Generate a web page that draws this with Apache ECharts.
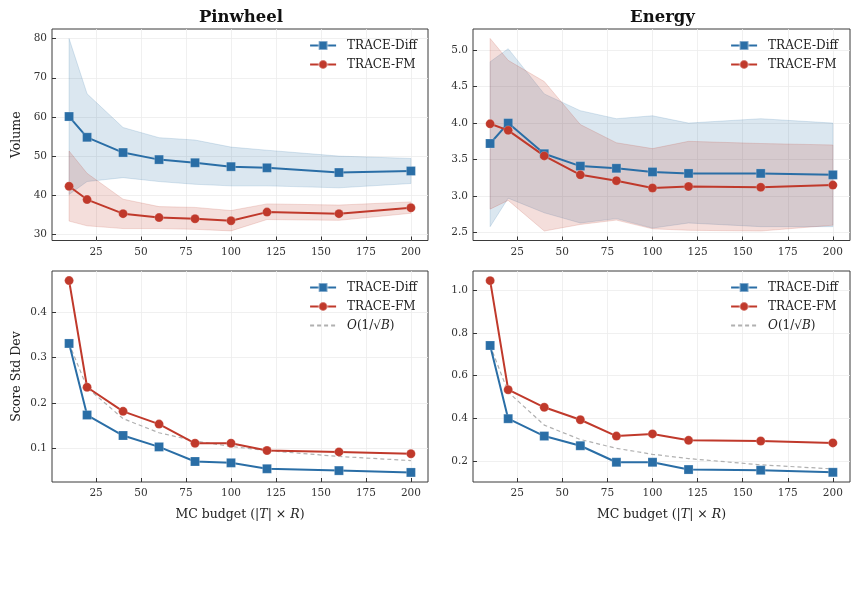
<!DOCTYPE html>
<html>
<head>
<meta charset="utf-8">
<script src="https://cdn.jsdelivr.net/npm/echarts@6/dist/echarts.min.js"></script>
<style>
  html, body { margin: 0; padding: 0; background: #fff; }
  #chart { width: 860px; height: 596px; }
</style>
</head>
<body>
<div id="chart"></div>
<script>
// MC budget on the x axis (shared by all panels)
const budgets = [10, 20, 40, 60, 80, 100, 120, 160, 200];
const xTicks = [25, 50, 75, 100, 125, 150, 175, 200];

// --- Pinwheel: volume (mean + band) ---
const pinDiffMean = [60.1, 54.8, 50.9, 49.1, 48.3, 47.3, 47.0, 45.8, 46.2];
const pinDiffLo   = [40.2, 43.5, 44.5, 43.5, 42.8, 42.4, 42.4, 41.9, 43.0];
const pinDiffHi   = [80.0, 65.9, 57.3, 54.7, 54.1, 52.3, 51.5, 50.0, 49.4];
const pinFmMean   = [42.3, 38.9, 35.3, 34.3, 34.0, 33.5, 35.7, 35.3, 36.8];
const pinFmLo     = [33.4, 32.2, 31.5, 31.5, 31.3, 30.9, 33.8, 33.6, 35.4];
const pinFmHi     = [51.3, 45.6, 39.0, 37.1, 36.9, 36.1, 37.8, 37.5, 38.3];

// --- Energy: volume (mean + band) ---
const enDiffMean = [3.72, 4.00, 3.58, 3.41, 3.38, 3.33, 3.31, 3.31, 3.29];
const enDiffLo   = [2.58, 2.97, 2.77, 2.63, 2.69, 2.56, 2.63, 2.58, 2.58];
const enDiffHi   = [4.84, 5.02, 4.40, 4.17, 4.06, 4.10, 4.00, 4.06, 4.00];
const enFmMean   = [3.99, 3.90, 3.55, 3.29, 3.21, 3.11, 3.13, 3.12, 3.15];
const enFmLo     = [2.82, 2.94, 2.52, 2.61, 2.67, 2.55, 2.53, 2.52, 2.60];
const enFmHi     = [5.16, 4.86, 4.57, 3.98, 3.73, 3.65, 3.75, 3.72, 3.70];

// --- score std dev ---
const pinStdDiff = [0.331, 0.174, 0.129, 0.104, 0.072, 0.069, 0.056, 0.052, 0.048];
const pinStdFm   = [0.469, 0.235, 0.182, 0.154, 0.112, 0.112, 0.096, 0.093, 0.089];
const pinStdRef  = [0.331, 0.234, 0.166, 0.135, 0.117, 0.105, 0.096, 0.083, 0.074];
const enStdDiff  = [0.741, 0.400, 0.319, 0.274, 0.197, 0.197, 0.163, 0.160, 0.150];
const enStdFm    = [1.043, 0.535, 0.453, 0.395, 0.319, 0.329, 0.299, 0.296, 0.287];
const enStdRef   = [0.741, 0.524, 0.370, 0.303, 0.262, 0.234, 0.214, 0.185, 0.166];

// y tick labels per panel
const yTicksPinVol = [30, 40, 50, 60, 70, 80];
const yTicksEnVol  = [2.5, 3.0, 3.5, 4.0, 4.5, 5.0];
const yTicksPinStd = [0.1, 0.2, 0.3, 0.4];
const yTicksEnStd  = [0.2, 0.4, 0.6, 0.8, 1.0];

const panelTitles = ['Pinwheel', 'Energy'];
const seriesNames = ['TRACE-Diff', 'TRACE-FM', 'O(1/√B)'];

// styles
const SERIF = '"DejaVu Serif", "Liberation Serif", serif';
const BLUE = '#2a6ea6';
const RED = '#c0392b';
const BLUE_A = 'rgba(42,110,166,0.17)';
const RED_A = 'rgba(192,57,43,0.17)';

// grid boxes (px): [left, top, right edge, bottom edge]
const boxes = [
    [52, 29, 428, 240.5],
    [473, 29, 850, 240.5],
    [52, 271, 428, 482],
    [473, 271, 850, 482]
];
// right end of the legend text in each panel
const legendRight = [417, 838, 417, 838];

const pairs = (ys) => budgets.map((b, i) => [b, ys[i]]);

function makeGrid(b) {
    return {
        left: b[0], top: b[1], width: b[2] - b[0], height: b[3] - b[1],
        show: true, borderColor: '#3b3b3b', borderWidth: 1, backgroundColor: '#fff'
    };
}

function makeXAxis(idx, showName) {
    return {
        type: 'value', gridIndex: idx, min: 0.5, max: 209.5,
        name: showName ? 'MC budget (|{i|T}| × {i|R})' : '',
        nameLocation: 'middle', nameGap: 26,
        nameTextStyle: {
            fontFamily: SERIF, fontSize: 12.5, color: '#222',
            rich: { i: { fontFamily: SERIF, fontStyle: 'italic', fontSize: 12.5, color: '#222' } }
        },
        axisLine: { show: false },
        axisTick: { show: true, inside: true, length: 4, customValues: xTicks,
                    lineStyle: { color: '#333', width: 1 } },
        axisLabel: { customValues: xTicks, fontFamily: SERIF, fontSize: 10.5, color: '#333', margin: 6 },
        splitLine: { show: true, lineStyle: { color: '#ececec', width: 0.8 } }
    };
}

function makeYAxis(idx, min, max, ticks, name, digits) {
    return {
        type: 'value', gridIndex: idx, min: min, max: max,
        name: name, nameLocation: 'middle', nameGap: 29,
        nameTextStyle: { fontFamily: SERIF, fontSize: 12.5, color: '#222' },
        axisLine: { show: false },
        axisTick: { show: true, inside: true, length: 4, customValues: ticks,
                    lineStyle: { color: '#333', width: 1 } },
        axisLabel: {
            customValues: ticks, fontFamily: SERIF, fontSize: 10.5, color: '#333', margin: 5,
            formatter: (v) => Number(v).toFixed(digits)
        },
        splitLine: { show: true, lineStyle: { color: '#ececec', width: 0.8 } }
    };
}

// shaded band between lo and hi, drawn once as one polygon
function band(idx, lo, hi, fill) {
    return {
        type: 'custom', xAxisIndex: idx, yAxisIndex: idx, silent: true, z: 1,
        data: budgets.map((b, i) => [b, lo[i], hi[i]]),
        encode: { x: 0, y: [1, 2] },
        renderItem: (params, api) => {
            if (params.dataIndex !== 0) return null;
            const upper = budgets.map((b, i) => api.coord([b, hi[i]]));
            const lower = budgets.map((b, i) => api.coord([b, lo[i]])).reverse();
            return {
                type: 'polygon',
                shape: { points: upper.concat(lower) },
                style: { fill: fill, stroke: fill, lineWidth: 1 }
            };
        }
    };
}

function meanLine(idx, name, ys, color, shape) {
    return {
        name: name, type: 'line', xAxisIndex: idx, yAxisIndex: idx,
        data: pairs(ys), symbol: shape, symbolSize: 9, z: 5,
        lineStyle: { color: color, width: 2 },
        itemStyle: { color: color, borderColor: 'rgba(255,255,255,0.35)', borderWidth: 0.6 }
    };
}

function refLine(idx, ys) {
    return {
        name: seriesNames[2], type: 'line', xAxisIndex: idx, yAxisIndex: idx,
        data: pairs(ys), symbol: 'none', z: 3,
        lineStyle: { color: '#b0b0b0', width: 1.2, type: [4, 3] },
        // transparent so the legend shows only the dashed line
        itemStyle: { color: 'rgba(0,0,0,0)', borderWidth: 0 }
    };
}

function makeLegend(idx, names) {
    return {
        data: names, orient: 'vertical', padding: 0,
        right: 860 - legendRight[idx], top: boxes[idx][1] + 10.5,
        itemWidth: 26, itemHeight: 11, itemGap: 7,
        textStyle: {
            fontFamily: SERIF, fontSize: 12, color: '#222', padding: [0, 0, 0, 6],
            rich: { i: { fontFamily: SERIF, fontStyle: 'italic', fontSize: 12, color: '#222' } }
        },
        formatter: (n) => n === seriesNames[2] ? '{i|O}(1/√{i|B})' : n
    };
}

const chart = echarts.init(document.getElementById('chart'), null, { renderer: 'canvas' });

const option = {
    animation: false,
    backgroundColor: '#fff',
    title: panelTitles.map((t, i) => ({
        text: t, left: (boxes[i][0] + boxes[i][2]) / 2 - 4, top: 4, textAlign: 'center',
        textStyle: { fontFamily: SERIF, fontWeight: 'bold', fontSize: 16.5, color: '#111' }
    })),
    grid: boxes.map(makeGrid),
    xAxis: [makeXAxis(0, false), makeXAxis(1, false), makeXAxis(2, true), makeXAxis(3, true)],
    yAxis: [
        makeYAxis(0, 28.45, 82.45, yTicksPinVol, 'Volume', 0),
        makeYAxis(1, 2.39, 5.29, yTicksEnVol, '', 1),
        makeYAxis(2, 0.027, 0.490, yTicksPinStd, 'Score Std Dev', 1),
        makeYAxis(3, 0.105, 1.088, yTicksEnStd, '', 1)
    ],
    legend: [
        makeLegend(0, seriesNames.slice(0, 2)),
        makeLegend(1, seriesNames.slice(0, 2)),
        makeLegend(2, seriesNames),
        makeLegend(3, seriesNames)
    ],
    series: [
        // Pinwheel volume
        band(0, pinDiffLo, pinDiffHi, BLUE_A),
        band(0, pinFmLo, pinFmHi, RED_A),
        meanLine(0, seriesNames[0], pinDiffMean, BLUE, 'rect'),
        meanLine(0, seriesNames[1], pinFmMean, RED, 'circle'),
        // Energy volume
        band(1, enDiffLo, enDiffHi, BLUE_A),
        band(1, enFmLo, enFmHi, RED_A),
        meanLine(1, seriesNames[0], enDiffMean, BLUE, 'rect'),
        meanLine(1, seriesNames[1], enFmMean, RED, 'circle'),
        // std dev panels
        refLine(2, pinStdRef),
        meanLine(2, seriesNames[0], pinStdDiff, BLUE, 'rect'),
        meanLine(2, seriesNames[1], pinStdFm, RED, 'circle'),
        refLine(3, enStdRef),
        meanLine(3, seriesNames[0], enStdDiff, BLUE, 'rect'),
        meanLine(3, seriesNames[1], enStdFm, RED, 'circle')
    ]
};

chart.setOption(option);
</script>
</body>
</html>
